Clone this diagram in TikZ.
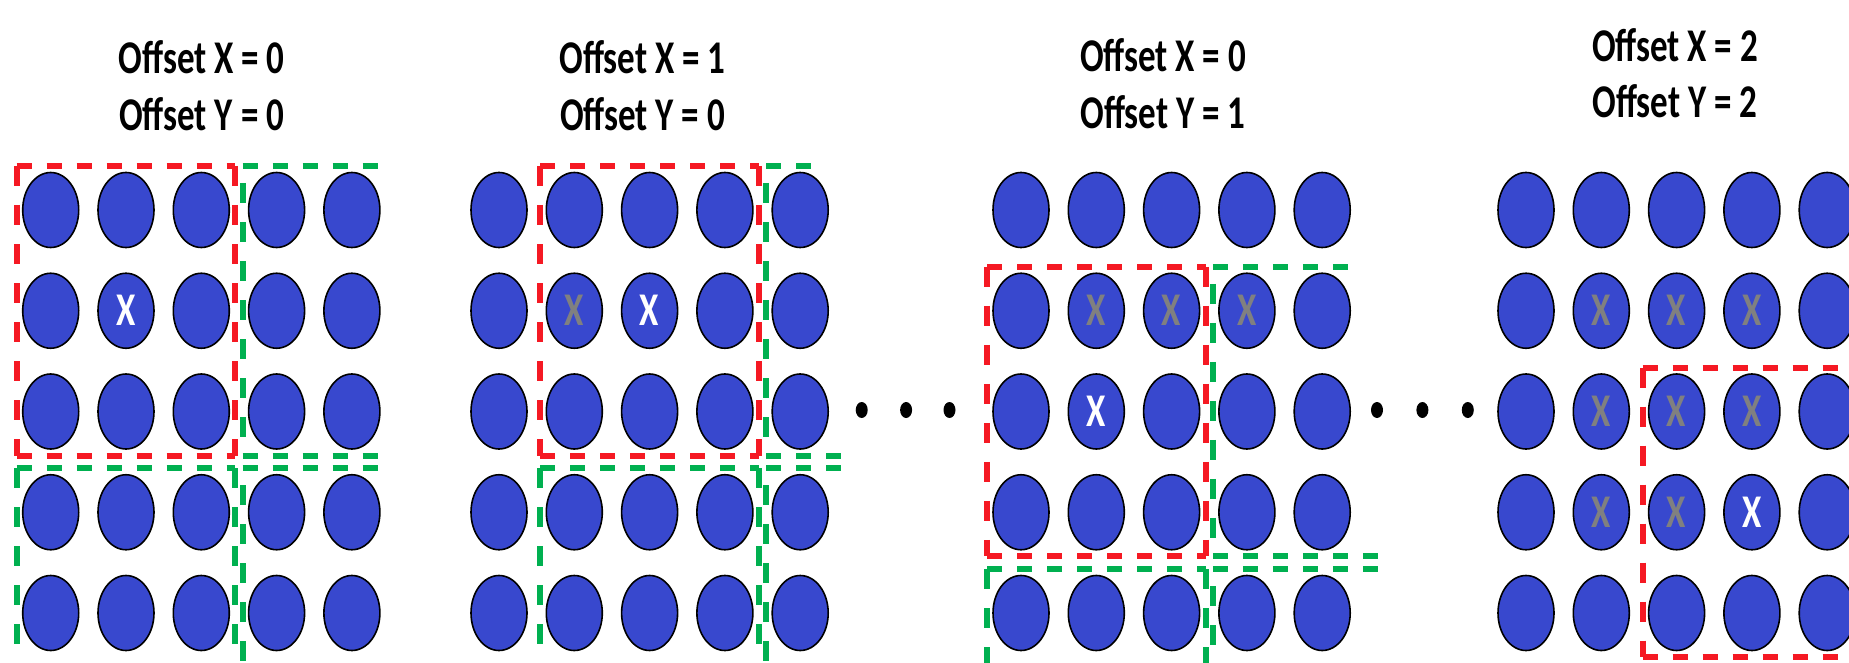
\documentclass[tikz,border=0pt]{standalone}
\usepackage{fontspec}
\setmainfont{Carlito}
\usepackage{graphicx}
\usepackage{tikz}
\usetikzlibrary{shapes.geometric,positioning}
\definecolor{cellblue}{RGB}{56,72,206}
\definecolor{winred}{RGB}{245,25,35}
\definecolor{wingreen}{RGB}{0,176,80}
\newcommand{\tallbox}[1]{\scalebox{1}[1.34]{#1}}
\newcommand{\cellx}{\tallbox{X}}
% red window: x1 y1 x2 y2 (local panel units)
\newcommand{\redwindow}[4]{%
  \draw[redwin,hseg] (#1,#2) -- (#3,#2);
  \draw[redwin,hseg] (#1,#4) -- (#3,#4);
  \draw[redwin,vseg] (#1,#2) -- (#1,#4);
  \draw[redwin,vseg] (#3,#2) -- (#3,#4);}

\begin{document}
\begin{tikzpicture}[x=1pt, y=-1pt,
    cell/.style={ellipse, draw=black, line width=1.6pt, fill=cellblue,
                 minimum width=56pt, minimum height=75pt, inner sep=0pt},
    title/.style={font=\bfseries\fontsize{35}{40}\selectfont, inner sep=0pt},
    xwhite/.style={font=\bfseries\fontsize{35}{40}\selectfont, text=white, inner sep=0pt},
    xgray/.style={font=\bfseries\fontsize{35}{40}\selectfont, text=gray, inner sep=0pt},
    redwin/.style={draw=winred, line width=6pt},
    greenwin/.style={draw=wingreen, line width=6pt},
    hseg/.style={dash pattern=on 15pt off 15pt},
    vseg/.style={dash pattern=on 20pt off 19pt},
    vsegoff/.style={dash pattern=on 20pt off 19pt, dash phase=22pt},
    gapdot/.style={ellipse, fill=black, minimum width=12pt, minimum height=16pt, inner sep=0pt}]

\useasboundingbox[fill=white] (0,0) rectangle (1849,663);

% titles
\node[title] (t1x) at (201.7,57) {\tallbox{Offset X = 0}};
\node[title] (t1y) at (201.7,114) {\tallbox{Offset Y = 0}};
\node[title] (t2x) at (642.5,57) {\tallbox{Offset X = 1}};
\node[title] (t2y) at (642.5,114) {\tallbox{Offset Y = 0}};
\node[title] (t3x) at (1163,55) {\tallbox{Offset X = 0}};
\node[title] (t3y) at (1163,112) {\tallbox{Offset Y = 1}};
\node[title] (t4x) at (1675,45) {\tallbox{Offset X = 2}};
\node[title] (t4y) at (1675,101.5) {\tallbox{Offset Y = 2}};

% cell grids
\foreach \p/\ox in {1/50.7,2/499,3/1021,4/1526}
  \foreach \r in {0,...,4}
    \foreach \c in {0,...,4}
      \node[cell] (p\p-\r\c) at ({\ox+75.3*\c},{210+100.75*\r}) {};

% marks
\node[xwhite] (w1) at (p1-11) {\cellx};
\node[xgray] (g2-11) at (p2-11) {\cellx};
\node[xwhite] (w2) at (p2-12) {\cellx};
\foreach \rc in {11,12,13}
  \node[xgray] (g3-\rc) at (p3-\rc) {\cellx};
\node[xwhite] (w3) at (p3-21) {\cellx};
\foreach \rc in {11,12,13,21,22,23,31,32}
  \node[xgray] (g4-\rc) at (p4-\rc) {\cellx};
\node[xwhite] (w4) at (p4-33) {\cellx};

% dots between panels
\node[gapdot] (d1) at (861.7,410) {};
\node[gapdot, right=32pt of d1] (d2) {};
\node[gapdot, right=31pt of d2] (d3) {};
\node[gapdot] (d4) at (1377,410) {};
\node[gapdot, right=33pt of d4] (d5) {};
\node[gapdot, right=33pt of d5] (d6) {};

% panel 1 windows
\begin{scope}[shift={(50.7,0)}]
  \redwindow{-34}{166}{184.6}{455.5}
  \draw[greenwin,hseg] (191.9,166) -- (327.3,166);
  \draw[greenwin,hseg] (191.9,455.5) -- (327.3,455.5);
  \draw[greenwin,vsegoff] (191.9,166) -- (191.9,455.5);
  \draw[greenwin,hseg] (-34,468.25) -- (184.6,468.25);
  \draw[greenwin,vseg] (-34,468.25) -- (-34,670);
  \draw[greenwin,vseg] (184.6,468.25) -- (184.6,670);
  \draw[greenwin,hseg] (191.9,468.25) -- (327.3,468.25);
  \draw[greenwin,vsegoff] (191.9,468.25) -- (191.9,670);
\end{scope}

% panel 2 windows
\begin{scope}[shift={(499,0)}]
  \redwindow{41.3}{166}{259.9}{455.5}
  \draw[greenwin,hseg] (267.2,166) -- (313.2,166);
  \draw[greenwin,hseg] (267.2,455.5) -- (343.2,455.5);
  \draw[greenwin,vsegoff] (267.2,166) -- (267.2,455.5);
  \draw[greenwin,hseg] (41.3,468.25) -- (259.9,468.25);
  \draw[greenwin,vseg] (41.3,468.25) -- (41.3,670);
  \draw[greenwin,vseg] (259.9,468.25) -- (259.9,670);
  \draw[greenwin,hseg] (267.2,468.25) -- (343.2,468.25);
  \draw[greenwin,vsegoff] (267.2,468.25) -- (267.2,670);
\end{scope}

% panel 3 windows
\begin{scope}[shift={(1021,0)}]
  \redwindow{-34}{266.75}{184.6}{556.25}
  \draw[greenwin,hseg] (191.9,266.75) -- (327.2,266.75);
  \draw[greenwin,hseg] (191.9,556.25) -- (359.2,556.25);
  \draw[greenwin,vsegoff] (191.9,266.75) -- (191.9,556.25);
  \draw[greenwin,hseg] (-34,569) -- (184.6,569);
  \draw[greenwin,vseg] (-34,569) -- (-34,670);
  \draw[greenwin,vseg] (184.6,569) -- (184.6,670);
  \draw[greenwin,hseg] (191.9,569) -- (359.2,569);
  \draw[greenwin,vsegoff] (191.9,569) -- (191.9,670);
\end{scope}

% panel 4 window (runs off the right edge)
\begin{scope}[shift={(1526,0)}]
  \draw[redwin,hseg] (116.6,367.5) -- (340,367.5);
  \draw[redwin,hseg] (116.6,657) -- (340,657);
  \draw[redwin,vseg] (116.6,367.5) -- (116.6,657);
\end{scope}

\end{tikzpicture}
\end{document}
